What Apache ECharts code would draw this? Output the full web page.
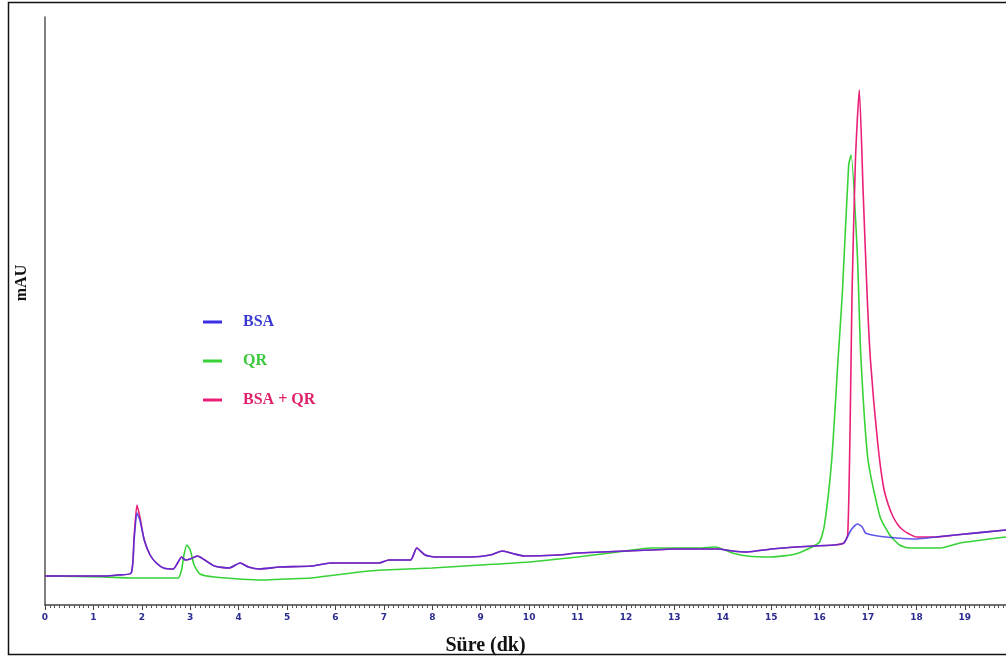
<!DOCTYPE html>
<html>
<head>
<meta charset="utf-8">
<script src="https://cdn.jsdelivr.net/npm/echarts@6/dist/echarts.min.js"></script>
<style>
html,body{margin:0;padding:0;background:#fff;}
#c{width:1006px;height:664px;}
</style>
</head>
<body>
<div id="c"></div>
<script>
// Retention time (min) and absorbance (arbitrary mAU units)
const bsaTime = [0, 1.2, 1.5, 1.78, 1.84, 1.9, 1.96, 2.05, 2.17, 2.3, 2.45, 2.65, 2.75, 2.82, 2.9, 3.0, 3.15, 3.3, 3.5, 3.8, 4.03, 4.2, 4.43, 4.85, 5.5, 5.9, 6.9, 7.1, 7.55, 7.68, 7.85, 8.05, 8.8, 9.2, 9.45, 9.7, 9.9, 10.6, 11.0, 11.5, 12.0, 12.5, 13.0, 13.9, 14.2, 14.5, 15.0, 15.5, 16.3, 16.5, 16.65, 16.78, 16.88, 16.95, 17.2, 17.6, 18.0, 18.4, 18.8, 19.85];
const bsaVal  = [29, 29, 30, 32, 65, 92, 85, 65, 50, 42, 37, 36, 43, 48, 45, 46, 49, 45, 39, 37, 42, 38, 36, 38, 39, 42, 42, 45, 45, 57, 50, 48, 48, 50, 54, 51, 49, 50, 52, 53, 54, 55, 56, 56, 54, 53, 56, 58, 60, 62, 75, 81, 78, 72, 69, 67, 66, 68, 70, 75];

const qrTime = [0, 1.2, 1.8, 2.75, 2.82, 2.87, 2.93, 3.0, 3.08, 3.2, 3.5, 4.5, 5.0, 5.5, 6.0, 6.5, 7.0, 8.0, 9.0, 10.0, 11.0, 11.5, 12.0, 12.5, 13.0, 13.5, 13.85, 14.2, 14.5, 15.0, 15.5, 15.8, 16.0, 16.1, 16.25, 16.38, 16.47, 16.6, 16.65, 16.78, 16.85, 17.0, 17.25, 17.45, 17.65, 17.85, 18.5, 18.9, 19.85];
const qrVal  = [29, 28, 27, 27, 35, 50, 60, 55, 40, 31, 28, 25, 26, 27, 30, 33, 35, 37, 40, 43, 48, 51, 54, 57, 57, 57, 58, 52, 49, 48, 51, 57, 63, 80, 145, 245, 312, 440, 450, 350, 250, 145, 88, 70, 60, 57, 57, 62, 68];

const mixTime = [0, 1.2, 1.5, 1.78, 1.84, 1.9, 1.96, 2.05, 2.17, 2.3, 2.45, 2.65, 2.75, 2.82, 2.9, 3.0, 3.15, 3.3, 3.5, 3.8, 4.03, 4.2, 4.43, 4.85, 5.5, 5.9, 6.9, 7.1, 7.55, 7.68, 7.85, 8.05, 8.8, 9.2, 9.45, 9.7, 9.9, 10.6, 11.0, 11.5, 12.0, 12.5, 13.0, 13.9, 14.2, 14.5, 15.0, 15.5, 16.3, 16.5, 16.58, 16.63, 16.67, 16.74, 16.82, 16.9, 16.98, 17.05, 17.2, 17.32, 17.42, 17.52, 17.62, 17.72, 17.85, 18.0, 18.4, 18.8, 19.85];
const mixVal  = [29, 29, 30, 32, 68, 100, 88, 65, 50, 42, 37, 36, 43, 48, 45, 46, 49, 45, 39, 37, 42, 38, 36, 38, 39, 42, 42, 45, 45, 57, 50, 48, 48, 50, 54, 51, 49, 50, 52, 53, 54, 55, 56, 56, 54, 53, 56, 58, 60, 62, 70, 178, 312, 445, 515, 412, 312, 245, 162, 118, 100, 88, 80, 75, 71, 68, 68, 70, 75];

const seriesNames = ['BSA', 'QR', 'BSA + QR'];
const xTickMin = 0, xTickMax = 19.85, xTickStep = 1;
const yMin = 0, yMax = 588;

const zip = (t, v) => t.map((x, i) => [x, v[i]]);
const colors = {BSA: '#3a2ee6', QR: '#36d236', 'BSA + QR': '#ea1f78'};
const serif = '"Liberation Serif","DejaVu Serif",serif';

const chart = echarts.init(document.getElementById('c'), null, {renderer: 'canvas'});
chart.setOption({
  animation: false,
  backgroundColor: '#fff',
  grid: {left: 45, right: 0, top: 17, bottom: 59, containLabel: false},
  legend: {
    orient: 'vertical', left: 198, top: 309, itemGap: 23,
    itemWidth: 19, itemHeight: 3, icon: 'rect',
    data: [
      {name: 'BSA', textStyle: {color: '#3a3ad2'}},
      {name: 'QR', textStyle: {color: '#3cc83c'}},
      {name: 'BSA + QR', textStyle: {color: '#e0226c'}}
    ],
    textStyle: {fontFamily: serif, fontWeight: 'bold', fontSize: 16, padding: [0, 0, 0, 16]}
  },
  xAxis: {
    type: 'value', min: xTickMin, max: xTickMax, interval: xTickStep,
    name: 'Süre (dk)', nameLocation: 'middle', nameGap: 31,
    nameTextStyle: {fontFamily: serif, fontWeight: 'bold', fontSize: 20, color: '#111', padding: [0, 80, 0, 0]},
    axisLine: {show: true, onZero: false, lineStyle: {color: '#444', width: 1.5}},
    axisTick: {show: true, inside: false, length: 5, lineStyle: {color: '#444'}},
    minorTick: {show: true, splitNumber: 10, length: 3, lineStyle: {color: '#555'}},
    axisLabel: {
      color: '#2a2a90', fontSize: 9, fontWeight: 'bold', fontFamily: 'DejaVu Sans',
      margin: 8, showMaxLabel: false,
      formatter: v => String(Math.round(v))
    },
    splitLine: {show: false}, minorSplitLine: {show: false}
  },
  yAxis: {
    type: 'value', min: yMin, max: yMax,
    axisLine: {show: true, lineStyle: {color: '#555', width: 1.5}},
    axisTick: {show: false}, axisLabel: {show: false}, splitLine: {show: false}
  },
  graphic: [
    {type: 'rect', shape: {x: 8.5, y: 2.5, width: 1010, height: 652}, style: {fill: 'none', stroke: '#111', lineWidth: 1.5}, silent: true},
    {type: 'text', x: 22, y: 283, rotation: Math.PI / 2,
     style: {text: 'mAU', fontFamily: serif, fontWeight: 'bold', fontSize: 16, fill: '#111', align: 'center', verticalAlign: 'middle'}}
  ],
  series: [
    {name: 'QR', type: 'line', data: zip(qrTime, qrVal), showSymbol: false, smooth: 0.2, z: 2,
     lineStyle: {color: colors.QR, width: 1.6}, itemStyle: {color: colors.QR}},
    {name: 'BSA + QR', type: 'line', data: zip(mixTime, mixVal), showSymbol: false, smooth: 0.2, z: 3,
     lineStyle: {color: colors['BSA + QR'], width: 1.6}, itemStyle: {color: colors['BSA + QR']}},
    {name: 'BSA', type: 'line', data: zip(bsaTime, bsaVal), showSymbol: false, smooth: 0.2, z: 4,
     lineStyle: {color: colors.BSA, width: 1.6, opacity: 0.8}, itemStyle: {color: colors.BSA}}
  ]
});
</script>
</body>
</html>
